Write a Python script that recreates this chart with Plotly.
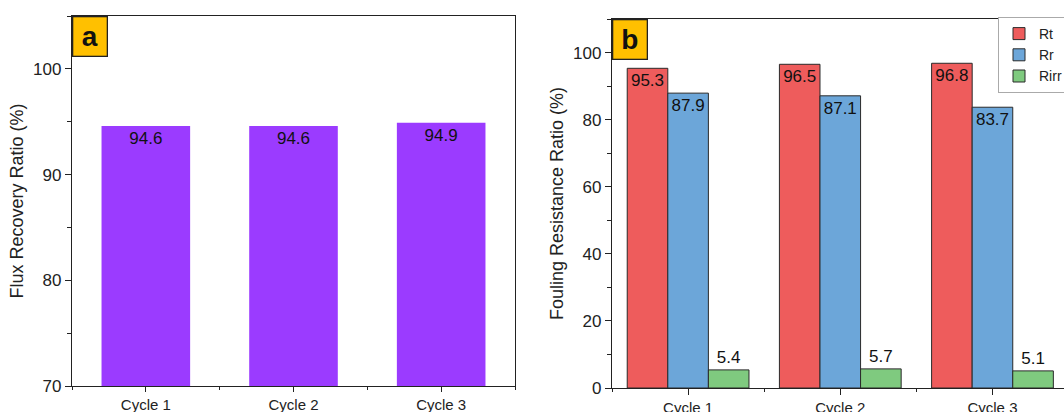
import plotly.graph_objects as go

categories = ["Cycle 1", "Cycle 2", "Cycle 3"]
frr_values = [94.6, 94.6, 94.9]
rt_values = [95.3, 96.5, 96.8]
rr_values = [87.9, 87.1, 83.7]
rirr_values = [5.4, 5.7, 5.1]
series_names = ["Rt", "Rr", "Rirr"]

W, H = 1064, 412
FONT = "Arial, Liberation Sans, sans-serif"
xpos = list(range(len(categories)))

fig = go.Figure()

# Panel a
fig.add_trace(go.Bar(
    x=xpos, y=frr_values, width=0.6, marker=dict(color="#9B3BFF", line=dict(width=0)),
    text=[f"{v:.1f}" for v in frr_values], textposition="inside", insidetextanchor="end",
    textangle=0, constraintext="none",
    textfont=dict(size=17, color="#111111", family=FONT),
    xaxis="x", yaxis="y", showlegend=False,
))

# Panel b
colors_b = ["#EE5C5C", "#6CA6D9", "#7FCA7F"]
for name, vals, col in zip(series_names, [rt_values, rr_values, rirr_values], colors_b):
    fig.add_trace(go.Bar(
        x=xpos, y=vals, name=name,
        marker=dict(color=col, line=dict(color="#2a2a2a", width=1)),
        text=[f"{v:.1f}" for v in vals],
        textposition="outside" if name == "Rirr" else "inside",
        insidetextanchor="end", textangle=0, constraintext="none", cliponaxis=False,
        textfont=dict(size=17, color="#111111", family=FONT),
        xaxis="x2", yaxis="y2", offsetgroup=name,
    ))

def px_x(p):
    return p / W

def px_y(p):
    return 1 - p / H

axis_common = dict(showline=True, linecolor="#222222", linewidth=1.3, ticks="outside",
                   tickcolor="#222222", tickwidth=1.3, showgrid=False, zeroline=False)

fig.update_layout(
    width=W, height=H, margin=dict(l=0, r=0, t=0, b=0, autoexpand=False),
    paper_bgcolor="white", plot_bgcolor="white",
    font=dict(family=FONT, color="#222222"),
    barmode="group", bargap=0.2, bargroupgap=0,
    xaxis=dict(domain=[px_x(72), px_x(515)], range=[-0.5, 2.5], tickvals=xpos, ticktext=categories,
               mirror=True, ticklen=5, tickfont=dict(size=15),
               minor=dict(tick0=0.5, dtick=1, ticks="outside", ticklen=3, tickcolor="#222222", tickwidth=1.3),
               anchor="y", **axis_common),
    yaxis=dict(domain=[px_y(386), px_y(16)], range=[70, 105], tickvals=[70, 80, 90, 100],
               mirror=True, ticklen=6, tickfont=dict(size=17),
               minor=dict(tick0=75, dtick=10, ticks="outside", ticklen=4, tickcolor="#222222", tickwidth=1.3),
               title=dict(text="Flux Recovery Ratio (%)", font=dict(size=18), standoff=4),
               anchor="x", **axis_common),
    xaxis2=dict(domain=[px_x(612), 1.0], range=[-0.5, 2.47], tickvals=xpos, ticktext=categories,
                mirror=True, ticklen=6, tickfont=dict(size=15),
                minor=dict(tick0=0.5, dtick=1, ticks="outside", ticklen=3, tickcolor="#222222", tickwidth=1.3),
                anchor="y2", **axis_common),
    yaxis2=dict(domain=[px_y(388), px_y(19)], range=[0, 110], tickvals=[0, 20, 40, 60, 80, 100],
                mirror=False, ticklen=6, tickfont=dict(size=17),
                minor=dict(tick0=10, dtick=20, ticks="outside", ticklen=4, tickcolor="#222222", tickwidth=1.3),
                title=dict(text="Fouling Resistance Ratio (%)", font=dict(size=18), standoff=4),
                anchor="x2", **axis_common),
    legend=dict(x=px_x(998), y=px_y(17), xanchor="left", yanchor="top",
                bgcolor="white", bordercolor="#aaaaaa", borderwidth=1,
                font=dict(size=14, color="#222222"), itemwidth=30, tracegroupgap=0,
                traceorder="normal"),
)

# Panel labels
for txt, x0, y0 in [("a", 72, 16), ("b", 612, 19)]:
    fig.add_annotation(
        x=px_x(x0), y=px_y(y0), xref="paper", yref="paper", xanchor="left", yanchor="top",
        text=f"<b>{txt}</b>", showarrow=False, width=33, height=38,
        bgcolor="#FFC000", bordercolor="#222222", borderwidth=1.3, borderpad=0,
        font=dict(size=28, color="#111111", family=FONT), align="center", valign="middle",
    )

fig.write_html("out.html", config={"displayModeBar": False},
               post_script="document.body.style.margin='0';document.body.style.overflow='hidden';")
